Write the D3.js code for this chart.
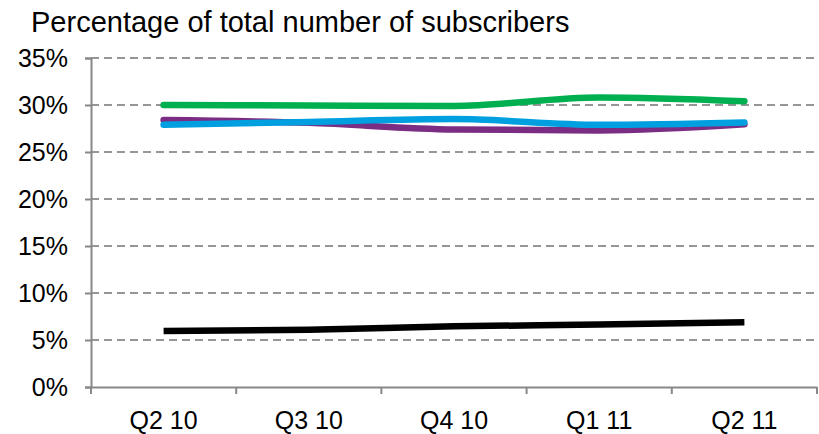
<!DOCTYPE html>
<html>
<head>
<meta charset="utf-8">
<script src="https://cdn.jsdelivr.net/npm/d3@7"></script>
<style>
  html, body { margin: 0; padding: 0; background: #fff; }
  svg { display: block; font-family: "Liberation Sans", Arial, sans-serif; }
</style>
</head>
<body>
<svg id="chart" width="819" height="434"></svg>
<script>
// Quarterly share of subscribers (percent)
const quarters = ["Q2 10", "Q3 10", "Q4 10", "Q1 11", "Q2 11"];
const greenValues  = [30.0, 29.95, 29.9, 30.8, 30.4];
const purpleValues = [28.4, 28.1, 27.4, 27.3, 27.95];
const blueValues   = [27.9, 28.2, 28.5, 27.9, 28.15];
const blackValues  = [5.95, 6.1, 6.45, 6.65, 6.9];
const yTicks = [0, 5, 10, 15, 20, 25, 30, 35];
const titleText = "Percentage of total number of subscribers";

const series = [
  { values: greenValues,  color: "#00b050", cap: "round" },
  { values: purpleValues, color: "#7b2c83", cap: "round" },
  { values: blueValues,   color: "#00a0e0", cap: "round" },
  { values: blackValues,  color: "#000000", cap: "butt" }
];

const svg = d3.select("#chart");
const plotLeft = 91, plotRight = 817, plotTop = 58, plotBottom = 387;
const labelSize = 25;

const x = d3.scaleBand().domain(quarters).range([plotLeft, plotRight]);
const y = d3.scaleLinear().domain([0, 35]).range([plotBottom, plotTop]);

// Title
svg.append("text")
  .attr("x", 31).attr("y", 32)
  .attr("font-size", 29).attr("fill", "#000")
  .text(titleText);

// Dashed horizontal gridlines
svg.append("g")
  .selectAll("line")
  .data(yTicks.filter(d => d > 0))
  .join("line")
  .attr("x1", plotLeft).attr("x2", plotRight)
  .attr("y1", d => y(d)).attr("y2", d => y(d))
  .attr("stroke", "#969696").attr("stroke-width", 2)
  .attr("stroke-dasharray", "8,5");

// Y axis
const yAxis = svg.append("g")
  .attr("transform", `translate(${plotLeft},0)`)
  .call(d3.axisLeft(y).tickValues(yTicks).tickFormat(d => d + "%").tickSize(6).tickPadding(17));
yAxis.select(".domain").attr("stroke", "#888").attr("stroke-width", 2);
yAxis.selectAll(".tick line").attr("stroke", "#888").attr("stroke-width", 2);
yAxis.selectAll(".tick text").attr("font-size", labelSize).attr("fill", "#000")
  .attr("font-family", "Liberation Sans, Arial, sans-serif");

// X axis
const xAxis = svg.append("g")
  .attr("transform", `translate(0,${plotBottom})`)
  .call(d3.axisBottom(x).tickSize(0).tickPadding(24));
xAxis.select(".domain").attr("stroke", "#888").attr("stroke-width", 2);
xAxis.selectAll(".tick text").attr("font-size", labelSize).attr("fill", "#000")
  .attr("font-family", "Liberation Sans, Arial, sans-serif");

// Category boundary ticks
const bounds = quarters.map(q => x(q)).concat([x(quarters[quarters.length - 1]) + x.bandwidth()]);
svg.append("g")
  .selectAll("line")
  .data(bounds)
  .join("line")
  .attr("x1", d => d).attr("x2", d => d)
  .attr("y1", plotBottom).attr("y2", plotBottom + 7)
  .attr("stroke", "#888").attr("stroke-width", 2);

// Series lines
const line = d3.line()
  .x((d, i) => x(quarters[i]) + x.bandwidth() / 2)
  .y(d => y(d))
  .curve(d3.curveMonotoneX);

svg.append("g")
  .selectAll("path")
  .data(series)
  .join("path")
  .attr("d", d => line(d.values))
  .attr("fill", "none")
  .attr("stroke", d => d.color)
  .attr("stroke-width", 6.5)
  .attr("stroke-linecap", d => d.cap)
  .attr("stroke-linejoin", "round");
</script>
</body>
</html>
